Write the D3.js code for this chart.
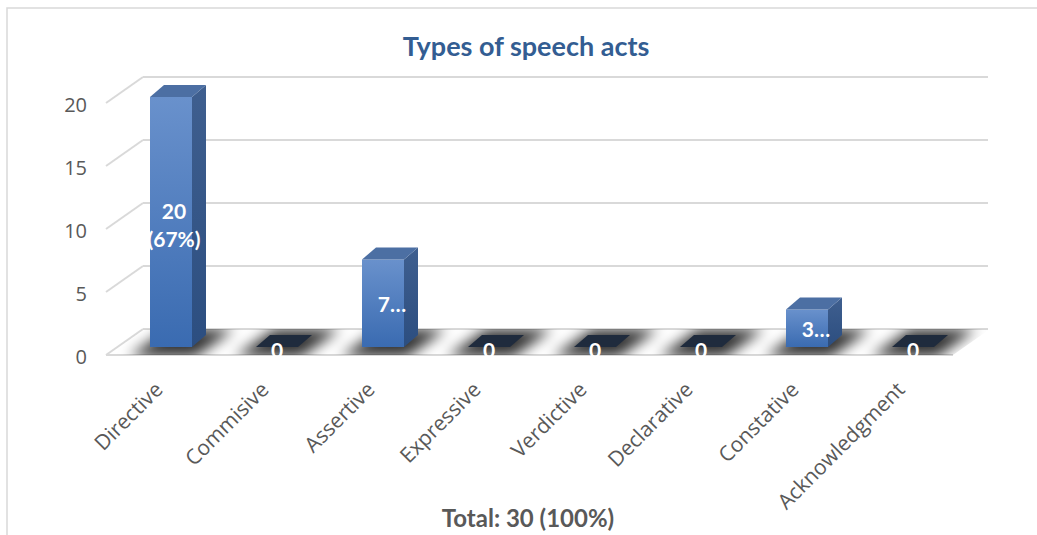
<!DOCTYPE html>
<html><head><meta charset="utf-8">
<script src="https://cdn.jsdelivr.net/npm/d3@7"></script>
<style>html,body{margin:0;padding:0;background:#fff;}svg{display:block;}</style>
</head><body>
<svg id="chart" width="1037" height="535"></svg>
<script>
const categories = ["Directive","Commisive","Assertive","Expressive","Verdictive","Declarative","Constative","Acknowledgment"];
const values = [20,0,7,0,0,0,3,0];
const dataLabels = [["20","(67%)"],["0"],["7…"],["0"],["0"],["0"],["3…"],["0"]];
const yTicks = [0,5,10,15,20];
const titleText = "Types of speech acts";
const axisTitle = "Total: 30 (100%)";

const svg = d3.select("#chart");

// oblique 3D geometry
const wallDX = 37, wallDY = -26;
const barDX = 14, barDY = -12;
const floorFrontY = 355;
const frontLeft = 106, frontRight = 953;

const x = d3.scaleBand().domain(categories).range([118, 966]).padding(0);
const barW = 42;
const yAxisS = d3.scaleLinear().domain([0,20]).range([floorFrontY, 103]);
const yWall = d3.scaleLinear().domain([0,20]).range([floorFrontY + wallDY, 103 + wallDY]);
const yBar = d3.scaleLinear().domain([0,20]).range([347, 97]);

const defs = svg.append("defs");
const gFront = defs.append("linearGradient").attr("id","gFront").attr("x1",0).attr("y1",0).attr("x2",0).attr("y2",1);
gFront.append("stop").attr("offset","0%").attr("stop-color","#6991cc");
gFront.append("stop").attr("offset","100%").attr("stop-color","#3a6bb1");
const gSide = defs.append("linearGradient").attr("id","gSide").attr("x1",0).attr("y1",0).attr("x2",0).attr("y2",1);
gSide.append("stop").attr("offset","0%").attr("stop-color","#3f5f8f");
gSide.append("stop").attr("offset","100%").attr("stop-color","#2c4e80");
const blur = defs.append("filter").attr("id","blur").attr("x","-50%").attr("y","-50%").attr("width","200%").attr("height","200%");
blur.append("feGaussianBlur").attr("stdDeviation", 7);

const floorPoly = [[frontLeft, floorFrontY],[frontRight, floorFrontY],[frontRight+wallDX, floorFrontY+wallDY],[frontLeft+wallDX, floorFrontY+wallDY]];
defs.append("clipPath").attr("id","floorClip").append("polygon").attr("points", floorPoly.map(p=>p.join(",")).join(" "));

// chart border
svg.append("rect").attr("x",7).attr("y",8).attr("width",1200).attr("height",700)
  .attr("fill","none").attr("stroke","#d9d9d9").attr("stroke-width",1.5);

// title
svg.append("text").attr("x",526).attr("y",56).attr("text-anchor","middle")
  .attr("font-family","Lato").attr("font-weight","bold").attr("font-size",27)
  .attr("fill","#335d92").text(titleText);

const grid = svg.append("g").attr("stroke","#d9d9d9").attr("stroke-width",2).attr("fill","none");
yTicks.forEach(v => {
  grid.append("line").attr("x1", frontLeft+wallDX).attr("x2", 988).attr("y1", yWall(v)).attr("y2", yWall(v));
  grid.append("line").attr("x1", frontLeft).attr("y1", yAxisS(v)).attr("x2", frontLeft+wallDX).attr("y2", yWall(v));
});
grid.append("line").attr("x1", frontLeft).attr("x2", frontRight).attr("y1", floorFrontY).attr("y2", floorFrontY);

// floor shadows
const shadowG = svg.append("g").attr("clip-path","url(#floorClip)");
shadowG.append("g").attr("filter","url(#blur)").selectAll("polygon").data(categories).join("polygon")
  .attr("points", d => {
    const cx = x(d) + x.bandwidth()/2;
    const a = cx - 42, b = cx + 24;
    return [[a, floorFrontY+2],[b, floorFrontY+2],[b+wallDX+2, floorFrontY+wallDY],[a+wallDX+2, floorFrontY+wallDY]].map(p=>p.join(",")).join(" ");
  })
  .attr("fill","#000").attr("opacity",0.8);

// y tick labels
svg.append("g").selectAll("text").data(yTicks).join("text")
  .attr("x", 87).attr("y", d => yAxisS(d) + 2).attr("dy","0.35em").attr("text-anchor","end")
  .attr("font-family","Open Sans").attr("font-size",20).attr("fill","#595959").text(d => d);

// bars
const bars = svg.append("g").selectAll("g").data(categories.map((c,i)=>({c, v: values[i], lab: dataLabels[i]}))).join("g");
bars.each(function(d){
  const g = d3.select(this);
  const cx = x(d.c) + x.bandwidth()/2;
  const x0 = cx - barW/2, x1 = cx + barW/2;
  const yT = yBar(d.v), yB = yBar(0);
  const pts = a => a.map(p=>p.join(",")).join(" ");
  if (d.v > 0) {
    g.append("polygon").attr("points", pts([[x1,yT],[x1+barDX,yT+barDY],[x1+barDX,yB+barDY],[x1,yB]])).attr("fill","url(#gSide)");
    g.append("rect").attr("x", x0).attr("y", yT).attr("width", barW).attr("height", yB - yT).attr("fill","url(#gFront)");
    g.append("polygon").attr("points", pts([[x0,yT],[x0+barDX,yT+barDY],[x1+barDX,yT+barDY],[x1,yT]])).attr("fill","#4c6fa3");
  } else {
    g.append("polygon").attr("points", pts([[x0,yT],[x0+barDX,yT+barDY],[x1+barDX,yT+barDY],[x1,yT]])).attr("fill","#1f2b3d");
  }
  const t = g.append("text").attr("text-anchor","middle").attr("font-family","Lato").attr("font-weight","bold")
    .attr("font-size",21).attr("fill","#fff");
  if (d.v === 0) {
    t.attr("x", cx).attr("y", 358).text(d.lab[0]);
  } else if (d.lab.length === 2) {
    const my = (yT + yB) / 2;
    t.append("tspan").attr("x", cx + 3).attr("y", my - 3).text(d.lab[0]);
    t.append("tspan").attr("x", cx + 3).attr("y", my + 25).text(d.lab[1]);
  } else {
    t.attr("x", cx + 9).attr("y", (yT + yB)/2 + 9).text(d.lab[0]);
  }
});

// x labels
svg.append("g").selectAll("text").data(categories).join("text")
  .attr("transform", d => `translate(${x(d)+x.bandwidth()/2 - 7},${391}) rotate(-45)`)
  .attr("text-anchor","end").attr("font-family","Open Sans").attr("font-size",21).attr("fill","#595959").text(d => d);

// axis title
svg.append("text").attr("x",528).attr("y",527).attr("text-anchor","middle")
  .attr("font-family","Lato").attr("font-weight","bold").attr("font-size",24)
  .attr("fill","#595959").text(axisTitle);
</script>
</body></html>
